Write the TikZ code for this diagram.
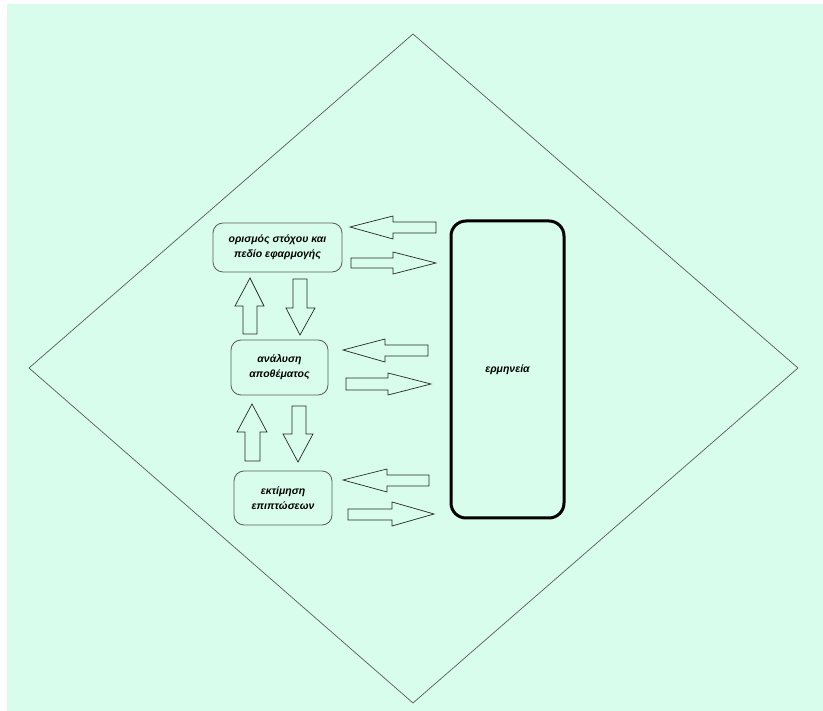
\documentclass[tikz,border=0pt]{standalone}
\usepackage{fontspec}
\setmainfont{Liberation Sans}
\definecolor{mint}{RGB}{216,253,237}
\definecolor{edgegray}{RGB}{90,90,90}
\tikzset{
  stagebox/.style={draw=edgegray, line width=0.8pt, rounded corners=10pt, align=center,
    font=\fontsize{10.5}{15}\selectfont\bfseries\itshape, inner sep=0pt},
  bigbox/.style={draw=black, line width=3pt, rounded corners=15pt, align=center,
    font=\fontsize{10.5}{15}\selectfont\bfseries\itshape, inner sep=0pt},
  blockarr/.style={draw=black!85, line width=0.7pt, line join=miter},
}
\begin{document}
\begin{tikzpicture}[x=1pt,y=-1pt]
\useasboundingbox (0,0) rectangle (823,711);
\fill[white] (0,0) rectangle (823,711);
\fill[mint] (7,4) rectangle (823,711);
% diamond
\draw[edgegray, line width=0.7pt] (413,34) -- (798,368) -- (413,703) -- (29,368) -- cycle;
% stage boxes
\node[stagebox, minimum width=129pt, minimum height=49pt] (goal) at (277.5,247.5) {ορισμός στόχου και\\πεδίο εφαρμογής};
\node[stagebox, minimum width=97pt, minimum height=55pt] (inv) at (279.5,367.5) {ανάλυση\\αποθέματος};
\node[stagebox, minimum width=98pt, minimum height=54pt] (imp) at (283,498) {εκτίμηση\\επιπτώσεων};
\node[bigbox, minimum width=113pt, minimum height=297pt] (interp) at (507.5,369.5) {ερμηνεία};
% horizontal block arrows
\draw[blockarr] (436,222) -- (393,222) -- (393,216) -- (350,227) -- (393,239) -- (393,233) -- (436,233) -- cycle;
\draw[blockarr] (351,258) -- (393,258) -- (393,252) -- (436,263) -- (393,274) -- (393,268) -- (351,268) -- cycle;
\draw[blockarr] (428,345) -- (385,345) -- (385,339) -- (343,350) -- (385,362) -- (385,356) -- (428,356) -- cycle;
\draw[blockarr] (346,378) -- (388,378) -- (388,373) -- (431,384) -- (388,395) -- (388,390) -- (346,390) -- cycle;
\draw[blockarr] (429,475) -- (387,475) -- (387,469) -- (343,480) -- (387,492) -- (387,486) -- (429,486) -- cycle;
\draw[blockarr] (348,509) -- (392,509) -- (392,502) -- (434,514) -- (392,526) -- (392,520) -- (348,520) -- cycle;
% vertical block arrows
\draw[blockarr] (243,334) -- (243,306) -- (235,306) -- (250,278) -- (264,306) -- (257,306) -- (257,334) -- cycle;
\draw[blockarr] (293,279) -- (307,279) -- (307,308) -- (315,308) -- (300,335) -- (286,308) -- (293,308) -- cycle;
\draw[blockarr] (245,461) -- (245,432) -- (237,432) -- (252,404) -- (267,432) -- (260,432) -- (260,461) -- cycle;
\draw[blockarr] (292,406) -- (306,406) -- (306,434) -- (313,434) -- (298,462) -- (283,434) -- (292,434) -- cycle;
\end{tikzpicture}
\end{document}
